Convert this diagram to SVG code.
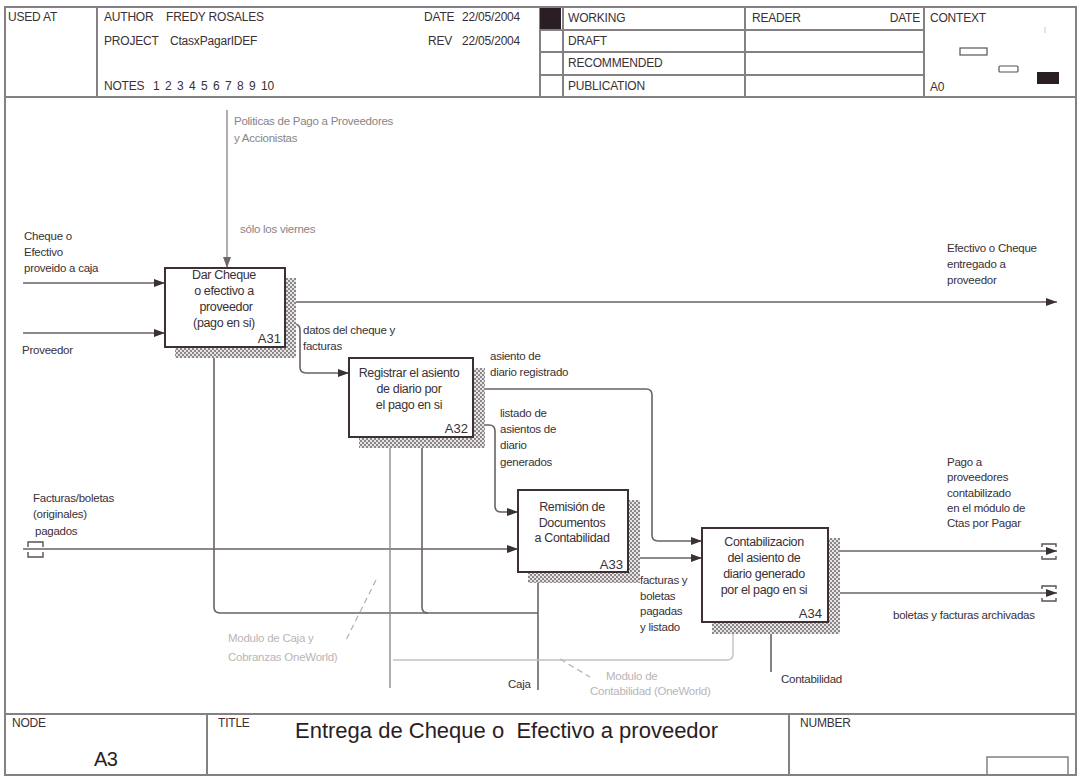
<svg xmlns="http://www.w3.org/2000/svg" width="1081" height="778" viewBox="0 0 1081 778">
<defs>
<style>
.frame{fill:none;stroke:#858083;stroke-width:2}
.hd{font-family:"Liberation Sans",Arial,sans-serif;font-size:12px;fill:#3a3035;letter-spacing:-0.2px}
.lb{font-family:"Liberation Sans",Arial,sans-serif;font-size:11.5px;fill:#3a3035;letter-spacing:-0.25px}
.gl{fill:#8a8486}
.lg{fill:#b9b5b7}
.bt{font-family:"Liberation Sans",Arial,sans-serif;font-size:12.5px;fill:#3a3035;letter-spacing:-0.35px;text-anchor:middle}
.bn{font-family:"Liberation Sans",Arial,sans-serif;font-size:13px;fill:#3a3035;text-anchor:end}
.box{fill:#ffffff;stroke:#3d3035;stroke-width:2}
.sh{fill:url(#hatch)}
.c{fill:none;stroke:#6a6264;stroke-width:1.6}
.cg{fill:none;stroke:#8f8a8c;stroke-width:1.4}
.cl{fill:none;stroke:#c4c0c2;stroke-width:1.4}
.dash{fill:none;stroke:#b5b1b3;stroke-width:1.2;stroke-dasharray:6 4}
.tn{fill:none;stroke:#5a5255;stroke-width:1.4}
</style>
<pattern id="hatch" width="4" height="4" patternUnits="userSpaceOnUse">
<rect width="4" height="4" fill="#e6e4e5"/>
<rect width="2" height="2" fill="#8c8789"/>
<rect x="2" y="2" width="2" height="2" fill="#8c8789"/>
</pattern>
<marker id="ar" markerWidth="11" markerHeight="8" refX="11" refY="4" orient="auto" markerUnits="userSpaceOnUse">
<path d="M0,0 L11,4 L0,8 Z" fill="#3a3035"/>
</marker>
<marker id="arg" markerWidth="11" markerHeight="8" refX="11" refY="4" orient="auto" markerUnits="userSpaceOnUse">
<path d="M0,0 L11,4 L0,8 Z" fill="#6f686b"/>
</marker>
</defs>

<rect width="1081" height="778" fill="#ffffff"/>

<g id="frame">
<rect class="frame" x="5" y="7" width="1071" height="768"/>
<line class="frame" x1="5" y1="97" x2="1076" y2="97"/>
<line class="frame" x1="97" y1="7" x2="97" y2="97"/>
<line class="frame" x1="540" y1="7" x2="540" y2="97"/>
<line class="frame" x1="563" y1="7" x2="563" y2="97"/>
<line class="frame" x1="745" y1="7" x2="745" y2="97"/>
<line class="frame" x1="924" y1="7" x2="924" y2="97"/>
<line class="frame" x1="540" y1="30" x2="924" y2="30"/>
<line class="frame" x1="540" y1="52" x2="924" y2="52"/>
<line class="frame" x1="540" y1="75" x2="924" y2="75"/>
<rect x="540" y="8" width="21" height="21" fill="#2a1e24"/>
<text class="hd" x="8" y="21">USED AT</text>
<text class="hd" x="104" y="21">AUTHOR</text>
<text class="hd" x="166" y="21">FREDY ROSALES</text>
<text class="hd" x="104" y="45">PROJECT</text>
<text class="hd" x="170" y="45">CtasxPagarIDEF</text>
<text class="hd" x="104" y="90">NOTES</text>
<text class="hd" y="90"><tspan x="153">1</tspan><tspan x="165">2</tspan><tspan x="177">3</tspan><tspan x="189">4</tspan><tspan x="201">5</tspan><tspan x="213">6</tspan><tspan x="225">7</tspan><tspan x="237">8</tspan><tspan x="249">9</tspan><tspan x="261">10</tspan></text>
<text class="hd" x="424" y="21">DATE</text>
<text class="hd" x="462" y="21">22/05/2004</text>
<text class="hd" x="428" y="45">REV</text>
<text class="hd" x="462" y="45">22/05/2004</text>
<text class="hd" x="568" y="22">WORKING</text>
<text class="hd" x="568" y="45">DRAFT</text>
<text class="hd" x="568" y="67">RECOMMENDED</text>
<text class="hd" x="568" y="90">PUBLICATION</text>
<text class="hd" x="752" y="22">READER</text>
<text class="hd" x="920" y="22" text-anchor="end">DATE</text>
<text class="hd" x="930" y="22">CONTEXT</text>
<text class="hd" x="930" y="91">A0</text>
<rect x="960" y="48" width="27" height="7" fill="none" stroke="#5a5255" stroke-width="1.2"/>
<rect x="999" y="66" width="19" height="6" fill="none" stroke="#5a5255" stroke-width="1.2" rx="1"/>
<rect x="1037" y="72" width="22" height="12" fill="#2a1e24"/>
<line x1="1045" y1="27" x2="1045" y2="33" stroke="#c8c4c6" stroke-width="1"/>

<line class="frame" x1="5" y1="714" x2="1076" y2="714"/>
<line class="frame" x1="207" y1="714" x2="207" y2="775"/>
<line class="frame" x1="789" y1="714" x2="789" y2="775"/>
<rect x="987" y="757" width="81" height="18" fill="none" stroke="#858083" stroke-width="1.5"/>
<text class="hd" x="12" y="727">NODE</text>
<text class="hd" x="218" y="727">TITLE</text>
<text class="hd" x="800" y="727">NUMBER</text>
<text x="295" y="738" xml:space="preserve" style="font-family:'Liberation Sans',Arial,sans-serif;font-size:22px;fill:#2a1e24">Entrega de Cheque o  Efectivo a proveedor</text>
<text x="94" y="766" style="font-family:'Liberation Sans',Arial,sans-serif;font-size:20px;fill:#2a1e24;letter-spacing:-0.5px">A3</text>
</g>

<g id="connectors">
<path class="cg" d="M227,110 V268" marker-end="url(#arg)"/>
<path class="c" d="M23,283 H165" marker-end="url(#ar)"/>
<path class="c" d="M23,333 H165" marker-end="url(#ar)"/>
<path class="c" d="M285,302 H1057" marker-end="url(#ar)"/>
<path class="c" d="M285,324 H294 Q300,324 300,330 V367 Q300,373 306,373 H349" marker-end="url(#ar)"/>
<path class="c" d="M473,389 H646 Q652,389 652,395 V535 Q652,541 658,541 H702" marker-end="url(#ar)"/>
<path class="c" d="M473,425 H489 Q495,425 495,431 V506 Q495,512 501,512 H518" marker-end="url(#ar)"/>
<path class="c" d="M23,549 H518" marker-end="url(#ar)"/>
<path class="tn" d="M28,547 V542 H43 V547 M28,552 V557 H43 V552"/>
<path class="c" d="M628,558 H702" marker-end="url(#ar)"/>
<path class="c" d="M828,551 H1057" marker-end="url(#ar)"/>
<path class="tn" d="M1042,547 V544 H1056 V547 M1042,556 V559 H1056 V556"/>
<path class="c" d="M828,593 H1057" marker-end="url(#ar)"/>
<path class="tn" d="M1042,589 V586 H1056 V589 M1042,598 V601 H1056 V598"/>
<path class="c" d="M538,690 V572" marker-end="url(#ar)"/>
<path class="c" d="M538,613 H220 Q214,613 214,607 V347" marker-end="url(#ar)"/>
<path class="c" d="M428,613 Q422,613 422,607 V437" marker-end="url(#ar)"/>
<path class="cg" d="M390,688 V437" marker-end="url(#arg)"/>
<path class="cl" d="M393,660 H727 Q733,660 733,654 V622" marker-end="url(#arg)"/>
<path class="c" d="M771,672 V622" marker-end="url(#ar)"/>
<path class="dash" d="M376,580 L346,640"/>
<path class="dash" d="M560,659 L590,677"/>
</g>

<g id="labels">
<text class="lb gl" x="234" y="125">Politicas de Pago a Proveedores</text>
<text class="lb gl" x="234" y="142">y Accionistas</text>
<text class="lb gl" x="240" y="233">sólo los viernes</text>
<text class="lb" x="24" y="240">Cheque o</text>
<text class="lb" x="24" y="256">Efectivo</text>
<text class="lb" x="24" y="272">proveido a caja</text>
<text class="lb" x="22" y="354">Proveedor</text>
<text class="lb" x="303" y="334">datos del cheque y</text>
<text class="lb" x="303" y="350">facturas</text>
<text class="lb" x="490" y="360">asiento de</text>
<text class="lb" x="490" y="376">diario registrado</text>
<text class="lb" x="500" y="417">listado de</text>
<text class="lb" x="500" y="433">asientos de</text>
<text class="lb" x="500" y="449">diario</text>
<text class="lb" x="500" y="466">generados</text>
<text class="lb" x="947" y="252">Efectivo o Cheque</text>
<text class="lb" x="947" y="268">entregado a</text>
<text class="lb" x="947" y="284">proveedor</text>
<text class="lb" x="33" y="502">Facturas/boletas</text>
<text class="lb" x="33" y="518">(originales)</text>
<text class="lb" x="35" y="535">pagados</text>
<text class="lb" x="640" y="584">facturas y</text>
<text class="lb" x="640" y="600">boletas</text>
<text class="lb" x="640" y="615">pagadas</text>
<text class="lb" x="640" y="631">y listado</text>
<text class="lb" x="947" y="466">Pago a</text>
<text class="lb" x="947" y="481">proveedores</text>
<text class="lb" x="947" y="497">contabilizado</text>
<text class="lb" x="947" y="512">en el módulo de</text>
<text class="lb" x="947" y="527">Ctas por Pagar</text>
<text class="lb" x="893" y="619">boletas y facturas archivadas</text>
<text class="lb lg" x="228" y="642">Modulo de Caja y</text>
<text class="lb lg" x="228" y="661">Cobranzas OneWorld)</text>
<text class="lb" x="508" y="688">Caja</text>
<text class="lb lg" x="606" y="680">Modulo de</text>
<text class="lb lg" x="590" y="695">Contabilidad (OneWorld)</text>
<text class="lb" x="781" y="683">Contabilidad</text>
</g>

<g id="A31">
<path class="sh" d="M285,278 H296 V358 H175 V347 H285 Z"/>
<rect class="box" x="165" y="268" width="120" height="79"/>
<text class="bt" x="224" y="279">Dar Cheque</text>
<text class="bt" x="224" y="295">o efectivo a</text>
<text class="bt" x="226" y="311">proveedor</text>
<text class="bt" x="224" y="327">(pago en si)</text>
<text class="bn" x="281" y="343">A31</text>
</g>

<g id="A32">
<path class="sh" d="M473,368 H485 V448 H359 V437 H473 Z"/>
<rect class="box" x="349" y="358" width="124" height="79"/>
<text class="bt" x="409" y="377">Registrar el asiento</text>
<text class="bt" x="409" y="393">de diario por</text>
<text class="bt" x="409" y="409">el pago en si</text>
<text class="bn" x="468" y="433">A32</text>
</g>

<g id="A33">
<path class="sh" d="M628,500 H640 V583 H528 V572 H628 Z"/>
<rect class="box" x="518" y="490" width="110" height="82"/>
<text class="bt" x="572" y="511">Remisión de</text>
<text class="bt" x="572" y="527">Documentos</text>
<text class="bt" x="572" y="542">a Contabilidad</text>
<text class="bn" x="623" y="569">A33</text>
</g>

<g id="A34">
<path class="sh" d="M828,538 H840 V634 H712 V622 H828 Z"/>
<rect class="box" x="702" y="528" width="126" height="94"/>
<text class="bt" x="764" y="546">Contabilizacion</text>
<text class="bt" x="764" y="562">del asiento de</text>
<text class="bt" x="764" y="578">diario generado</text>
<text class="bt" x="764" y="594">por el pago en si</text>
<text class="bn" x="822" y="618">A34</text>
</g>
</svg>
